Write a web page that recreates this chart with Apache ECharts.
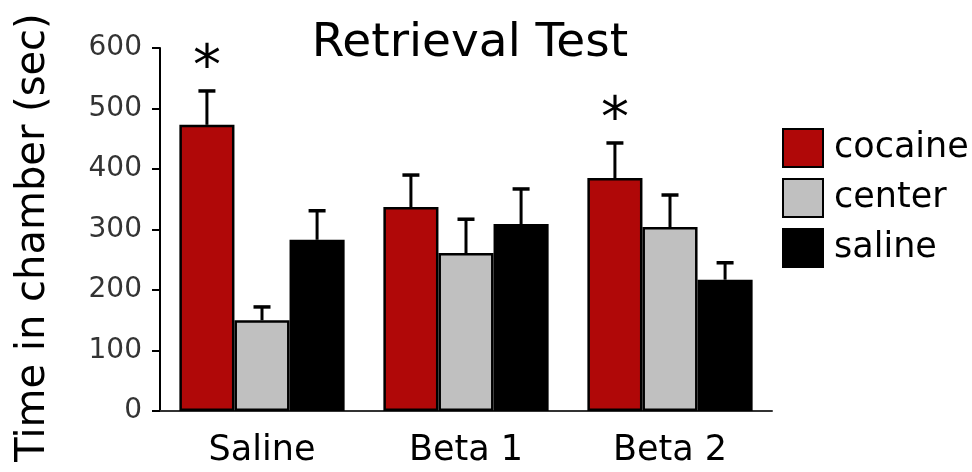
<!DOCTYPE html>
<html>
<head>
<meta charset="utf-8">
<script src="https://cdn.jsdelivr.net/npm/echarts@6/dist/echarts.min.js"></script>
<style>html,body{margin:0;padding:0;background:#fff}#c{width:972px;height:472px}</style>
</head>
<body>
<div id="c"></div>
<script>
const categories = ['Saline', 'Beta 1', 'Beta 2'];
const seriesNames = ['cocaine', 'center', 'saline'];
const cocaine = [473, 337, 385];
const center = [150, 261, 304];
const saline = [283, 309, 217];
const cocaineErr = [56, 53, 58];
const centerErr = [22, 56, 53];
const salineErr = [48, 58, 28];
const significance = ['*', '', '*'];
const yTicks = [0, 100, 200, 300, 400, 500, 600];

const values = [cocaine, center, saline];
const errs = [cocaineErr, centerErr, salineErr];
const colors = ['#b00808', '#c0c0c0', '#000000'];
const FONT = '"DejaVu Sans", "Liberation Sans", Arial, sans-serif';
const BAR_FRAC = 0.27;

const chart = echarts.init(document.getElementById('c'), null, {renderer: 'canvas'});

const barSeries = seriesNames.map((n, k) => ({
  name: n,
  type: 'bar',
  data: values[k],
  barWidth: (BAR_FRAC * 100) + '%',
  barGap: '0%',
  itemStyle: {color: colors[k], borderColor: '#000', borderWidth: 2.5},
  emphasis: {disabled: true},
  z: 2
}));

const errSeries = seriesNames.map((n, k) => ({
  type: 'custom',
  name: n + '_err',
  data: values[k].map((v, i) => [i, v, v + errs[k][i]]),
  encode: {x: 0, y: [1, 2]},
  z: 1,
  silent: true,
  renderItem: function (params, api) {
    const i = api.value(0);
    const band = api.size([1, 0])[0];
    const bw = band * BAR_FRAC;
    const base = api.coord([i, api.value(1)]);
    const top = api.coord([i, api.value(2)]);
    const x = base[0] + (k - 1) * bw;
    const half = 8.5;
    return {
      type: 'group',
      children: [
        {type: 'line', shape: {x1: x, y1: base[1], x2: x, y2: top[1]}, style: {stroke: '#000', lineWidth: 3}},
        {type: 'line', shape: {x1: x - half, y1: top[1], x2: x + half, y2: top[1]}, style: {stroke: '#000', lineWidth: 3.5}}
      ]
    };
  }
}));

const starSeries = {
  type: 'custom',
  name: 'stars',
  data: cocaine.map((v, i) => [i, v + cocaineErr[i]]),
  encode: {x: 0, y: 1},
  silent: true,
  z: 3,
  renderItem: function (params, api) {
    const i = api.value(0);
    const band = api.size([1, 0])[0];
    const bw = band * BAR_FRAC;
    const p = api.coord([i, api.value(1)]);
    const txt = significance[i];
    if (!txt) return null;
    return {
      type: 'text',
      style: {text: txt, x: p[0] - bw, y: p[1] - 22, textAlign: 'center', textVerticalAlign: 'middle',
        font: '56px ' + FONT, fill: '#000'}
    };
  }
};

chart.setOption({
  animation: false,
  backgroundColor: '#fff',
  title: {
    text: 'Retrieval Test',
    left: 470, top: 20, padding: 0,
    textAlign: 'center',
    textStyle: {fontFamily: FONT, fontSize: 47, fontWeight: 'normal', color: '#000'}
  },
  legend: {
    data: seriesNames,
    orient: 'vertical',
    left: 782, top: 128, padding: 0,
    icon: 'rect',
    itemWidth: 40, itemHeight: 38, itemGap: 10,
    textStyle: {fontFamily: FONT, fontSize: 35, color: '#000', padding: [0, 0, 0, 6]},
    selectedMode: false
  },
  grid: {left: 160, right: 200, top: 48, bottom: 61, containLabel: false, outerBoundsMode: 'none'},
  xAxis: {
    type: 'category',
    data: categories,
    axisLine: {lineStyle: {color: '#333', width: 2}},
    axisTick: {show: false},
    axisLabel: {fontFamily: FONT, fontSize: 35, color: '#000', margin: 22}
  },
  yAxis: {
    type: 'value',
    min: yTicks[0], max: yTicks[yTicks.length - 1], interval: 100,
    name: 'Time in chamber (sec)',
    nameLocation: 'middle',
    nameGap: 106,
    nameTextStyle: {fontFamily: FONT, fontSize: 40, color: '#000', padding: [0, 16, 0, 0]},
    axisLine: {show: true, lineStyle: {color: '#000', width: 2}},
    axisTick: {show: true, length: 8, lineStyle: {color: '#000', width: 2}},
    splitLine: {show: false},
    axisLabel: {fontFamily: FONT, fontSize: 28, color: '#333', margin: 18}
  },
  series: [...barSeries, ...errSeries, starSeries]
});
</script>
</body>
</html>
